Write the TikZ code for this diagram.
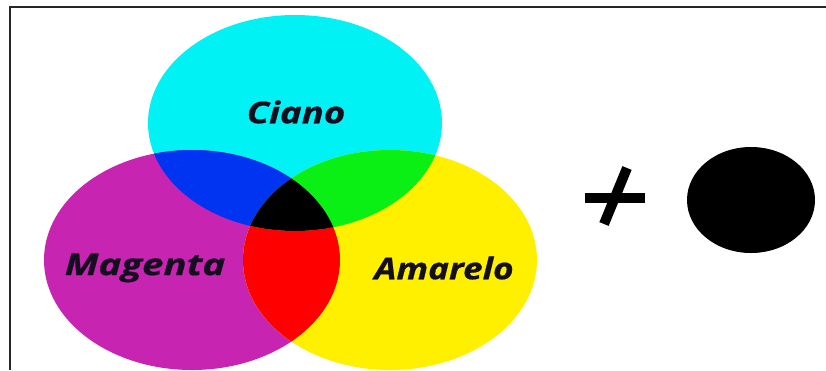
\documentclass[tikz,border=0pt]{standalone}
\usepackage{fontspec}
\setmainfont{Open Sans}
\newfontfamily\lblfont{Open Sans}[FakeBold=0.6]
\definecolor{cy}{RGB}{0,242,245}
\definecolor{mg}{RGB}{200,36,178}
\definecolor{yl}{RGB}{255,240,0}
\definecolor{bl}{RGB}{0,52,240}
\definecolor{gr}{RGB}{10,240,20}
\definecolor{rd}{RGB}{255,0,0}
\definecolor{txt}{RGB}{20,15,30}
\begin{document}
\begin{tikzpicture}[x=1pt,y=-1pt,
  lbl/.style={font=\lblfont\fontsize{30}{30}\selectfont\bfseries\itshape, text=txt, inner sep=0pt, transform shape},
  frameline/.style={line width=2pt, black!85}]
\useasboundingbox (0,0) rectangle (826,370);
\fill[white] (0,0) rectangle (826,370);
\def\cyanE{(295,123) ellipse [x radius=147, y radius=108]}
\def\magE{(192,260) ellipse [x radius=148, y radius=110]}
\def\yelE{(390,260) ellipse [x radius=147, y radius=110]}
\fill[cy] \cyanE;
\fill[mg] \magE;
\fill[yl] \yelE;
\begin{scope}
  \clip \cyanE;
  \fill[bl] \magE;
  \fill[gr] \yelE;
  \clip \magE;
  \fill[black] \yelE;
\end{scope}
\begin{scope}
  \clip \magE;
  \clip \yelE;
  \fill[rd, even odd rule] (0,0) rectangle (826,370) \cyanE;
\end{scope}
\node[lbl, xscale=1.22] (ciano) at (296,112) {Ciano};
\node[lbl, xscale=1.28] (magenta) at (145,268) {Magenta};
\node[lbl, xscale=1.17] (amarelo) at (444,268) {Amarelo};
% plus sign
\coordinate (ph1) at (585,198);
\coordinate (ph2) at (645,198);
\coordinate (pv1) at (627,168);
\coordinate (pv2) at (604,224);
\draw[line width=10pt, black] (ph1) -- (ph2);
\draw[line width=10pt, black] (pv1) -- (pv2);
\fill[black] (751,200) ellipse [x radius=64, y radius=53];
% frame
\coordinate (fl) at (10,7);
\coordinate (fb) at (10,370);
\coordinate (fr) at (826,7);
\draw[frameline] (fb) -- (fl) -- (fr);
\end{tikzpicture}
\end{document}
